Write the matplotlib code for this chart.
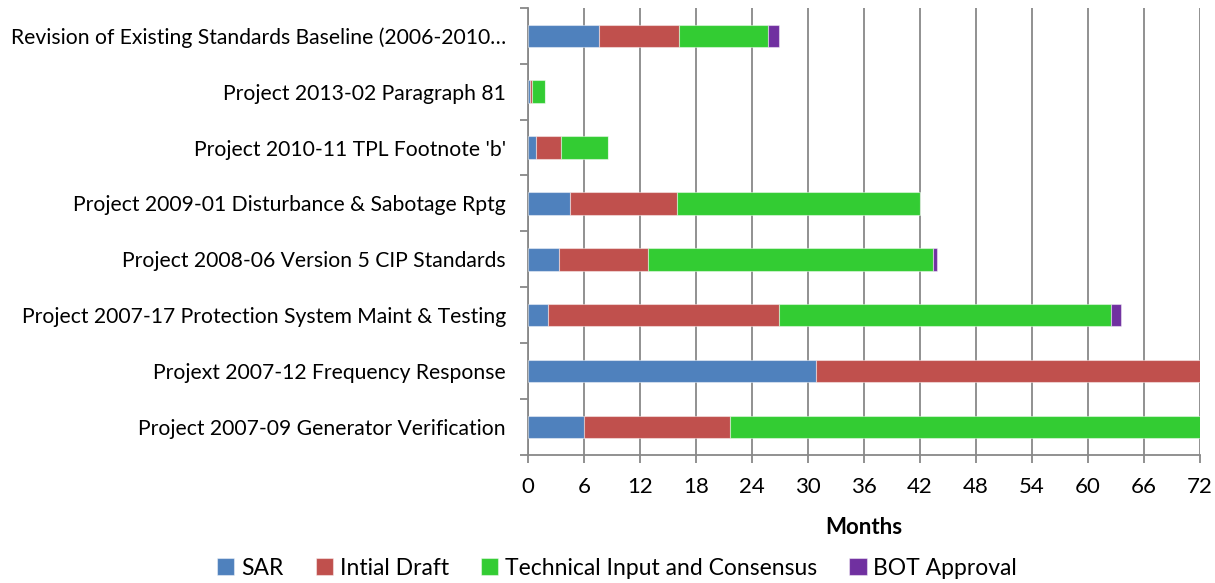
import matplotlib.pyplot as plt
import numpy as np

plt.rcParams['font.family'] = ['Lato', 'DejaVu Sans']

# projects, bottom to top as drawn
projects = [
    "Project 2007-09 Generator Verification",
    "Projext 2007-12 Frequency Response",
    "Project 2007-17 Protection System Maint & Testing",
    "Project 2008-06 Version 5 CIP Standards",
    "Project 2009-01 Disturbance & Sabotage Rptg",
    "Project 2010-11 TPL Footnote 'b'",
    "Project 2013-02 Paragraph 81",
    "Revision of Existing Standards Baseline (2006-2010\u2026",
]

# months per phase
sar = [6.0, 30.8, 2.1, 3.3, 4.5, 0.8, 0.25, 7.6]
draft = [15.6, 41.5, 24.8, 9.6, 11.5, 2.7, 0.2, 8.6]
technical = [50.6, 0.0, 35.6, 30.5, 26.0, 5.1, 1.4, 9.5]
bot = [0.0, 0.0, 1.0, 0.45, 0.0, 0.0, 0.0, 1.15]

series = [
    ("SAR", sar, "#4F81BD"),
    ("Intial Draft", draft, "#C0504D"),
    ("Technical Input and Consensus", technical, "#33CC33"),
    ("BOT Approval", bot, "#7030A0"),
]

fig = plt.figure(figsize=(12.15, 5.83), dpi=100)
ax = fig.add_axes([0.4346, 0.2196, 0.5531, 0.767])

y = np.arange(len(projects))
left = np.zeros(len(projects))
for name, vals, col in series:
    vals = np.array(vals)
    ax.barh(y, vals, left=left, height=0.4, color=col, label=name,
            edgecolor=(1, 1, 1, 0.45), linewidth=0.8, zorder=3)
    left += vals

ax.set_xlim(0, 72)
ax.set_ylim(-0.5, len(projects) - 0.5)
ax.set_xticks(np.arange(0, 73, 6))
ax.tick_params(axis='x', labelsize=16, length=6, width=1.3, color='#888888', pad=10)
ax.set_yticks(y)
ax.set_yticklabels(projects)
ax.set_yticks(np.arange(-0.5, len(projects), 1), minor=True)
ax.tick_params(axis='y', which='major', length=0, labelsize=15.2, pad=16)
ax.tick_params(axis='y', which='minor', length=6, width=1.3, color='#888888')

ax.grid(axis='x', color='#888888', linewidth=1.3, zorder=0)
ax.set_axisbelow(True)
for s in ['top', 'right']:
    ax.spines[s].set_visible(False)
for s in ['left', 'bottom']:
    ax.spines[s].set_color('#888888')
    ax.spines[s].set_linewidth(1.3)

ax.set_xlabel("Months", fontsize=16, fontweight='bold', labelpad=14)

fig.legend(loc='lower center', bbox_to_anchor=(0.508, -0.028), ncol=4, frameon=False,
           fontsize=16.5, handlelength=0.75, handleheight=0.75, handletextpad=0.3,
           columnspacing=1.4)

fig.savefig("out.png", dpi=100)
